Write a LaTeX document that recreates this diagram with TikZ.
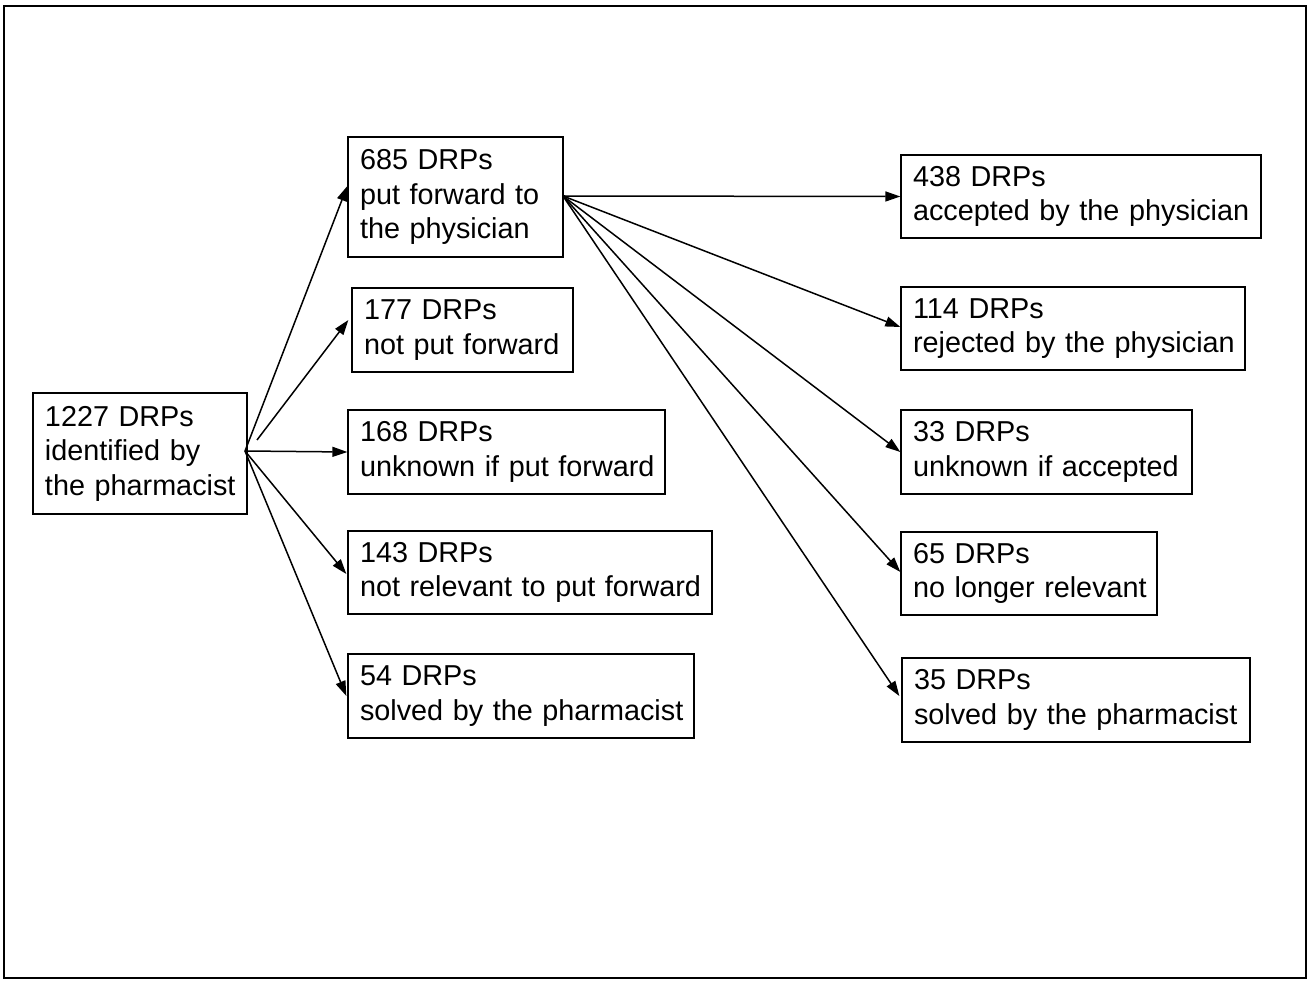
\documentclass[tikz,border=0pt]{standalone}
\usepackage{fontspec}
\setmainfont{Liberation Sans}
\usetikzlibrary{arrows.meta}
\begin{document}
\begin{tikzpicture}[x=1pt,y=-1pt,
  box/.style={draw,line width=1.3pt,align=left,inner xsep=12pt,inner ysep=0pt,
    font=\fontsize{28.8}{34.5}\selectfont,anchor=center},
  arr/.style={line width=1.5pt,-{Triangle[length=15pt,width=10pt]}}]
\useasboundingbox (0,0) rectangle (1310,981);
\draw[line width=2.5pt] (4,6) rectangle (1306,978);
\node[box,text width=190pt,minimum height=121pt] (a) at (140,453.5) {\mbox{1227 DRPs}\\\mbox{identified by}\\\mbox{the pharmacist}};
\node[box,text width=191pt,minimum height=120pt] (b) at (455.5,197) {\mbox{685 DRPs}\\\mbox{put forward to}\\\mbox{the physician}};
\node[box,text width=197pt,minimum height=84pt] (c) at (462.5,330) {\mbox{177 DRPs}\\\mbox{not put forward}};
\node[box,text width=293pt,minimum height=84pt] (d) at (506.5,452) {\mbox{168 DRPs}\\\mbox{unknown if put forward}};
\node[box,text width=340pt,minimum height=83pt] (e) at (530,572.5) {\mbox{143 DRPs}\\\mbox{not relevant to put forward}};
\node[box,text width=322pt,minimum height=84pt] (f) at (521,696) {\mbox{54 DRPs}\\\mbox{solved by the pharmacist}};
\node[box,text width=336pt,minimum height=83pt] (g) at (1081,196.5) {\mbox{438 DRPs}\\\mbox{accepted by the physician}};
\node[box,text width=320pt,minimum height=83pt] (h) at (1073,328.5) {\mbox{114 DRPs}\\\mbox{rejected by the physician}};
\node[box,text width=267pt,minimum height=84pt] (i) at (1046.5,452) {\mbox{33 DRPs}\\\mbox{unknown if accepted}};
\node[box,text width=232pt,minimum height=83pt] (j) at (1029,573.5) {\mbox{65 DRPs}\\\mbox{no longer relevant}};
\node[box,text width=324pt,minimum height=84pt] (k) at (1076,700) {\mbox{35 DRPs}\\\mbox{solved by the pharmacist}};
\coordinate (ao) at (245,451);
\coordinate (ct) at (257,440);
\coordinate (bo) at (563,196);
\draw[arr] (ao) -- ([yshift=11pt]b.west);
\draw[arr] (ct) -- ([yshift=10pt,xshift=-3pt]c.west);
\draw[arr] (ao) -- (d.west);
\draw[arr] (ao) -- ([yshift=-1.5pt,xshift=-1pt]e.west);
\draw[arr] (ao) -- ([xshift=-1pt]f.west);
\draw[arr] (bo) -- (g.west);
\draw[arr] (bo) -- ([yshift=1.5pt]h.west);
\draw[arr] (bo) -- (i.west);
\draw[arr] (bo) -- ([yshift=1.5pt]j.west);
\draw[arr] (bo) -- ([yshift=4pt,xshift=-2pt]k.west);
\end{tikzpicture}
\end{document}
